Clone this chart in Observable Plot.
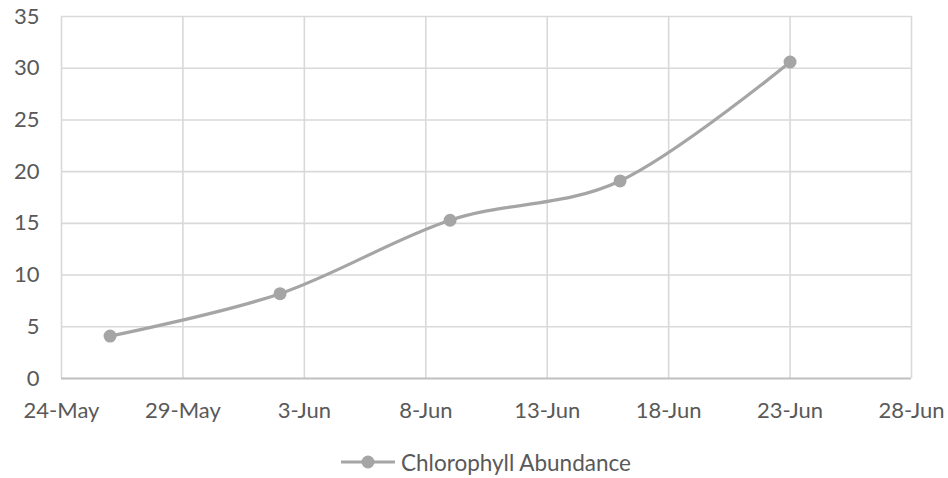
<!DOCTYPE html>
<html>
<head>
<meta charset="utf-8">
<script src="https://cdn.jsdelivr.net/npm/d3@7"></script>
<script src="https://cdn.jsdelivr.net/npm/@observablehq/plot@0.6"></script>
<style>
  html, body { margin: 0; padding: 0; background: #ffffff; }
  #chart { width: 948px; }
  .legend { display: flex; align-items: center; justify-content: flex-start; padding-left: 341px; height: 64px;
            font-family: Lato, "Open Sans", sans-serif; font-size: 22.5px; color: #595959; }
  .legend svg { margin-right: 6px; }
</style>
</head>
<body>
<div id="chart"></div>
<script>
// ---- data ----
const sampleDates = ["2019-05-26", "2019-06-02", "2019-06-09", "2019-06-16", "2019-06-23"];
const chlorophyll = [4.1, 8.2, 15.3, 19.1, 30.6];
const seriesName = "Chlorophyll Abundance";
const xTickDates = ["2019-05-24", "2019-05-29", "2019-06-03", "2019-06-08", "2019-06-13", "2019-06-18", "2019-06-23", "2019-06-28"];
const yTickValues = [0, 5, 10, 15, 20, 25, 30, 35];

const data = sampleDates.map((d, i) => ({date: new Date(d + "T00:00:00Z"), value: chlorophyll[i]}));
const xTicks = xTickDates.map(d => new Date(d + "T00:00:00Z"));
const fmt = d3.utcFormat("%-d-%b");

const lineColor = "#a5a5a5";
const gridColor = "#d9d9d9";

const plot = Plot.plot({
  width: 948,
  height: 430,
  marginTop: 16,
  marginBottom: 52,
  marginLeft: 61,
  marginRight: 37,
  style: {fontFamily: "Lato, 'Open Sans', sans-serif", fontSize: "22px", color: "#595959", background: "#ffffff"},
  x: {type: "utc", domain: [xTicks[0], xTicks[xTicks.length - 1]], ticks: xTicks, tickFormat: fmt, label: null},
  y: {domain: [0, 35], ticks: yTickValues, label: null},
  marks: [
    Plot.ruleY(yTickValues.filter(v => v > 0), {stroke: gridColor, strokeWidth: 1.6}),
    Plot.ruleX(xTicks, {stroke: gridColor, strokeWidth: 1.6}),
    Plot.ruleY([0], {stroke: "#bfbfbf", strokeWidth: 2}),
    Plot.axisX({ticks: xTicks, tickFormat: fmt, tickSize: 0, tickPadding: 24, fill: "#595959", label: null}),
    Plot.axisY({ticks: yTickValues, tickSize: 0, tickPadding: 22, fill: "#595959", label: null}),
    Plot.line(data, {x: "date", y: "value", stroke: lineColor, strokeWidth: 3.2, curve: "cardinal", tension: 0}),
    Plot.dot(data, {x: "date", y: "value", r: 6.5, fill: lineColor, stroke: "none"})
  ]
});

const container = document.getElementById("chart");
container.appendChild(plot);

const legend = document.createElement("div");
legend.className = "legend";
legend.innerHTML = `<svg width="54" height="16"><line x1="0" y1="8" x2="54" y2="8" stroke="${lineColor}" stroke-width="3.2"/><circle cx="27" cy="8" r="6.5" fill="${lineColor}"/></svg><span>${seriesName}</span>`;
container.appendChild(legend);
</script>
</body>
</html>
